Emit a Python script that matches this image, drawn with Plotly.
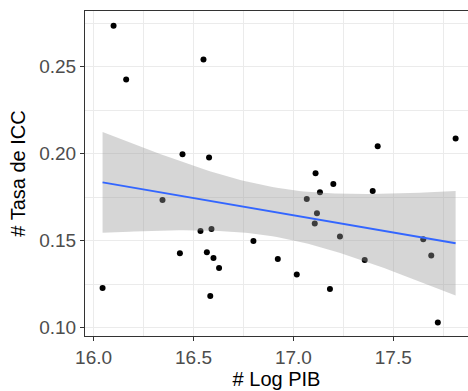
import numpy as np
import plotly.graph_objects as go

# Data
log_pib = [16.10, 16.55, 16.163, 16.445, 16.578, 17.111, 17.422, 17.812,
           16.345, 16.535, 16.59, 16.80, 16.432, 16.567, 16.60, 16.628,
           16.045, 16.584, 16.922, 17.20, 17.133, 17.397, 17.067, 17.118,
           17.107, 17.233, 17.65, 17.69, 17.357, 17.017, 17.183, 17.723]
tasa_icc = [0.2734, 0.2541, 0.2426, 0.1997, 0.1978, 0.1888, 0.2043, 0.2087,
            0.1734, 0.1556, 0.1568, 0.1499, 0.1428, 0.1434, 0.1401, 0.1344,
            0.1229, 0.1183, 0.1395, 0.1825, 0.1779, 0.1786, 0.1740, 0.1658,
            0.1599, 0.1524, 0.1509, 0.1415, 0.1390, 0.1306, 0.1223, 0.1030]

x_ticks = [16.0, 16.5, 17.0, 17.5]
x_tick_labels = ["16.0", "16.5", "17.0", "17.5"]
y_ticks = [0.10, 0.15, 0.20, 0.25]
y_tick_labels = ["0.10", "0.15", "0.20", "0.25"]

# Linear model (geom_smooth(method = "lm")) with 95% confidence band
x = np.array(log_pib)
y = np.array(tasa_icc)
n = len(x)
slope, intercept = np.polyfit(x, y, 1)
resid = y - (intercept + slope * x)
s = np.sqrt(np.sum(resid ** 2) / (n - 2))
t_crit = 2.042272  # t(0.975, df=30)
xg = np.linspace(x.min(), x.max(), 80)
yg = intercept + slope * xg
se = s * np.sqrt(1.0 / n + (xg - x.mean()) ** 2 / np.sum((x - x.mean()) ** 2))
upper = yg + t_crit * se
lower = yg - t_crit * se

fig = go.Figure()
fig.add_trace(go.Scatter(x=log_pib, y=tasa_icc, mode="markers",
                         marker=dict(color="black", size=6), showlegend=False,
                         hoverinfo="skip"))
fig.add_trace(go.Scatter(x=np.concatenate([xg, xg[::-1]]),
                         y=np.concatenate([upper, lower[::-1]]),
                         fill="toself", fillcolor="rgba(153,153,153,0.4)",
                         line=dict(width=0), mode="lines", showlegend=False,
                         hoverinfo="skip"))
fig.add_trace(go.Scatter(x=xg, y=yg, mode="lines",
                         line=dict(color="#3366FF", width=2), showlegend=False))

axis_common = dict(
    showgrid=True, gridcolor="#EBEBEB", gridwidth=1,
    zeroline=False, ticks="outside", ticklen=4, tickcolor="#333333",
    tickwidth=1, linecolor="#333333", linewidth=1, showline=True,
    tickfont=dict(family="Liberation Sans, Arial", size=19, color="#4D4D4D"),
)

fig.update_layout(
    width=468, height=391,
    margin=dict(l=85, r=0, t=11, b=55),
    plot_bgcolor="white", paper_bgcolor="white",
    xaxis=dict(range=[15.957, 17.874], tickvals=x_ticks, ticktext=x_tick_labels,
               mirror=True,
               minor=dict(tickvals=[16.25, 16.75, 17.25, 17.75], showgrid=True,
                          gridcolor="#EBEBEB", gridwidth=0.5, ticks=""),
               title=dict(text="# Log PIB", standoff=4,
                          font=dict(family="Liberation Sans, Arial", size=20, color="black")),
               **axis_common),
    yaxis=dict(range=[0.0953, 0.2819], tickvals=y_ticks, ticktext=y_tick_labels,
               minor=dict(tickvals=[0.125, 0.175, 0.225, 0.275], showgrid=True,
                          gridcolor="#EBEBEB", gridwidth=0.5, ticks=""),
               title=dict(text="# Tasa de ICC", standoff=8,
                          font=dict(family="Liberation Sans, Arial", size=20, color="black")),
               **axis_common),
)

fig.write_html("out.html", config={"displayModeBar": False},
               post_script="document.body.style.margin='0';document.body.style.padding='0';")
